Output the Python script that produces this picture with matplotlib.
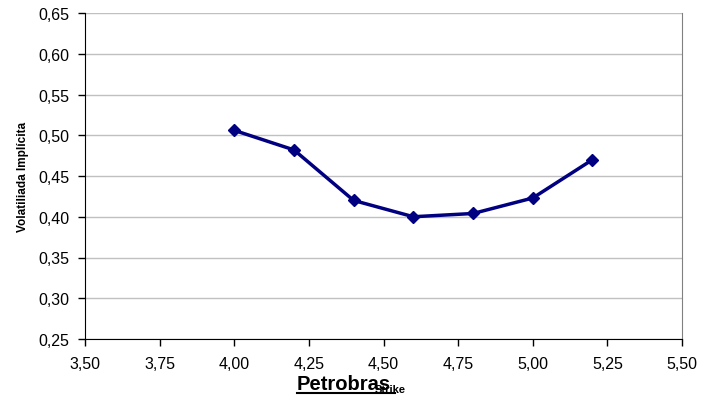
import matplotlib.pyplot as plt
import numpy as np

plt.rcParams['font.family'] = ['Liberation Sans', 'DejaVu Sans']

strike = [4.00, 4.20, 4.40, 4.60, 4.80, 5.00, 5.20]
vol = [0.506, 0.482, 0.420, 0.400, 0.404, 0.423, 0.470]
xticks = np.arange(3.50, 5.51, 0.25)
yticks = np.arange(0.25, 0.651, 0.05)

fig = plt.figure(figsize=(7.04, 4.02), dpi=100)
ax = fig.add_axes([85/704, 1 - 340/402, (682-85)/704, (340-14)/402])

ax.plot(strike, vol, color='#000080', lw=2.5, marker='D', ms=6)

ax.set_xlim(3.50, 5.50)
ax.set_ylim(0.25, 0.65)
ax.set_xticks(xticks)
ax.set_yticks(yticks)
ax.set_xticklabels([f"{v:.2f}".replace('.', ',') for v in xticks], fontsize=11.5)
ax.set_yticklabels([f"{v:.2f}".replace('.', ',') for v in yticks], fontsize=11.5)
ax.yaxis.grid(True, color='#c0c0c0', lw=1)
ax.set_axisbelow(True)
ax.spines['top'].set_visible(False)
ax.spines['right'].set_color('#808080')
ax.tick_params(direction='out', length=5, width=1)
ax.tick_params(axis='x', pad=7)
ax.tick_params(axis='y', pad=6)

ax.set_ylabel('Volatiliada Implícita', fontsize=8.5, fontweight='bold', labelpad=7)
fig.text(297/704, 1 - 385/402, 'Petrobras', fontsize=14.5, fontweight='bold',
         ha='left', va='center')
fig.add_artist(plt.Line2D([297/704, 395/704], [1 - 394/402, 1 - 394/402],
                          color='black', lw=1.5))
fig.text(390/704, 1 - 390/402, 'Strike', fontsize=8, fontweight='bold',
         ha='center', va='center')

fig.savefig('out.png', dpi=100)
